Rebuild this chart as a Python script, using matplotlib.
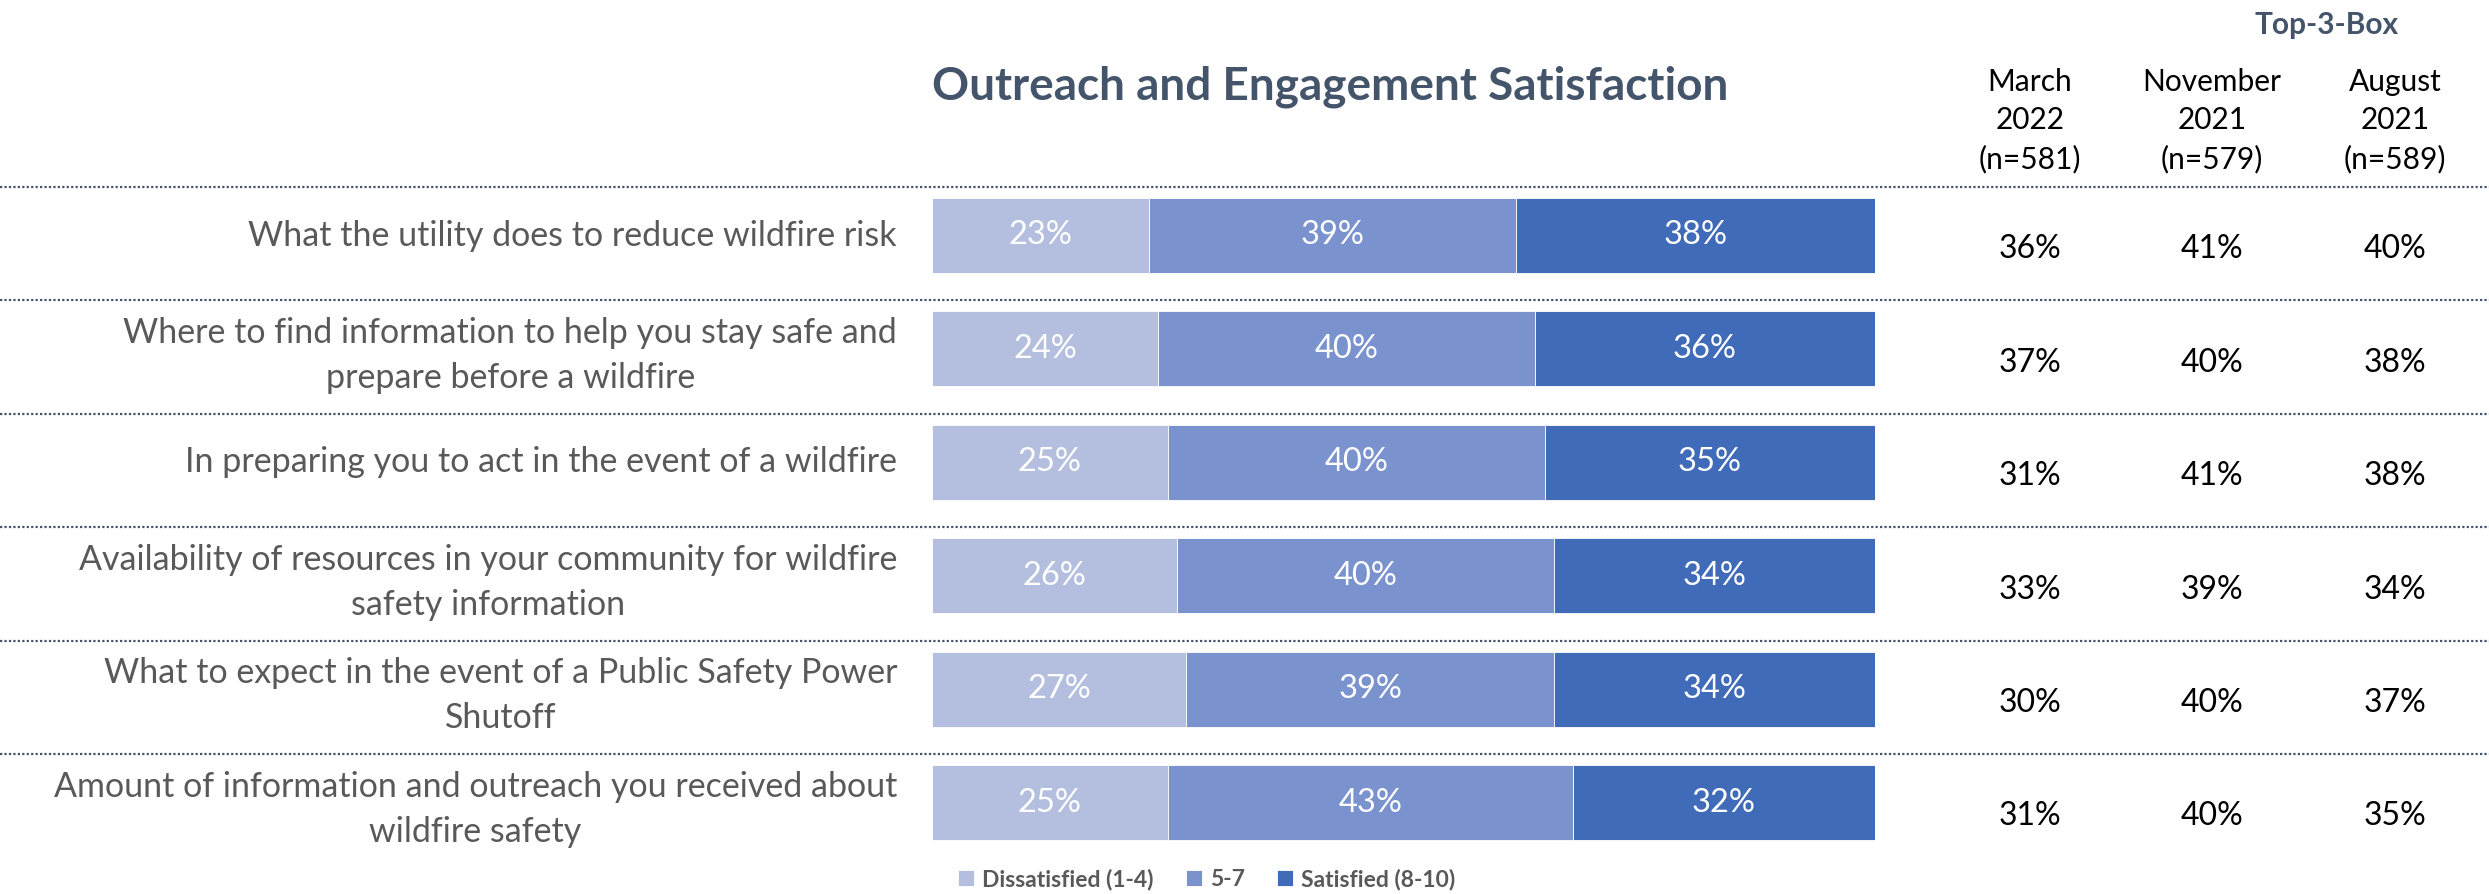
import numpy as np
import matplotlib
matplotlib.use('Agg')
import matplotlib.pyplot as plt
from matplotlib import transforms

plt.rcParams['font.family'] = ['Lato', 'DejaVu Sans']

# survey items, top to bottom
items = ['What the utility does to reduce wildfire risk',
         'Where to find information to help you stay safe and\nprepare before a wildfire',
         'In preparing you to act in the event of a wildfire',
         'Availability of resources in your community for wildfire\nsafety information',
         'What to expect in the event of a Public Safety Power\nShutoff',
         'Amount of information and outreach you received about\nwildfire safety']
dissatisfied = [23, 24, 25, 26, 27, 25]
middle = [39, 40, 40, 40, 39, 43]
satisfied = [38, 36, 35, 34, 34, 32]
series_names = ['Dissatisfied (1-4)', '5-7', 'Satisfied (8-10)']

# top-3-box by wave
waves = ['March\n2022\n(n=581)', 'November\n2021\n(n=579)', 'August\n2021\n(n=589)']
t3b_mar22 = [36, 37, 31, 33, 30, 31]
t3b_nov21 = [41, 40, 41, 39, 40, 40]
t3b_aug21 = [40, 38, 38, 34, 37, 35]

cols = ['#B4BFDF', '#7A93CF', '#406BB9']
W, H = 2489, 894
fig = plt.figure(figsize=(W/100, H/100), dpi=100)

row_px = 113.4
top_px = 235.5
ax = fig.add_axes([931.8/W, 0, (1874.7-931.8)/W, 1])
ax.set_xlim(0, 100)
ax.set_ylim((H-top_px)/row_px, -top_px/row_px)
ax.axis('off')

y = np.arange(len(items))
left = np.zeros(len(items))
bars = []
for vals, c in zip([dissatisfied, middle, satisfied], cols):
    b = ax.barh(y, vals, left=left, height=75/row_px, color=c,
                edgecolor='white', linewidth=0.6)
    ax.bar_label(b, labels=[f'{v}%' for v in vals], label_type='center',
                 color='white', fontsize=23.5)
    bars.append(b)
    left = left + np.array(vals)

blend = transforms.blended_transform_factory(fig.transFigure, ax.transData)
for i in range(len(items)):
    ax.plot([0, 1], [i - 48.5/row_px]*2, transform=blend, clip_on=False,
            color='#44546A', linestyle=(0, (1, 1)), linewidth=1.6)
    dy = 0.06 if '\n' in items[i] else 0
    ax.text(897/W, i + dy, items[i], transform=blend, ha='right', va='center',
            multialignment='center', fontsize=24.5, color='#595959',
            linespacing=1.5)

col_x = [2030, 2212, 2395]
for cx, vals, lab in zip(col_x, [t3b_mar22, t3b_nov21, t3b_aug21], waves):
    for i, v in enumerate(vals):
        ax.text(cx/W, i + 14/row_px, f'{v}%', transform=blend, ha='center',
                va='center', fontsize=23, color='black')
    fig.text(cx/W, 1 - 120.6/H, lab, ha='center', va='center', fontsize=21.5,
             color='black', linespacing=1.43)

fig.text(1330/W, 1 - 87/H, 'Outreach and Engagement Satisfaction', ha='center',
         va='center', fontsize=33, fontweight='bold', color='#44546A')
fig.text(2327/W, 1 - 25/H, 'Top-3-Box', ha='center', va='center', fontsize=21.5,
         fontweight='bold', color='#44546A')

fig.legend(bars, series_names, loc='center left', bbox_to_anchor=(949/W, 1 - 879/H),
           ncol=3, frameon=False, handlelength=0.7, handleheight=0.7,
           handletextpad=0.35, columnspacing=1.4, borderaxespad=0,
           prop={'weight': 'bold', 'size': 16.5}, labelcolor='#595959')

fig.savefig('out.png', dpi=100)
